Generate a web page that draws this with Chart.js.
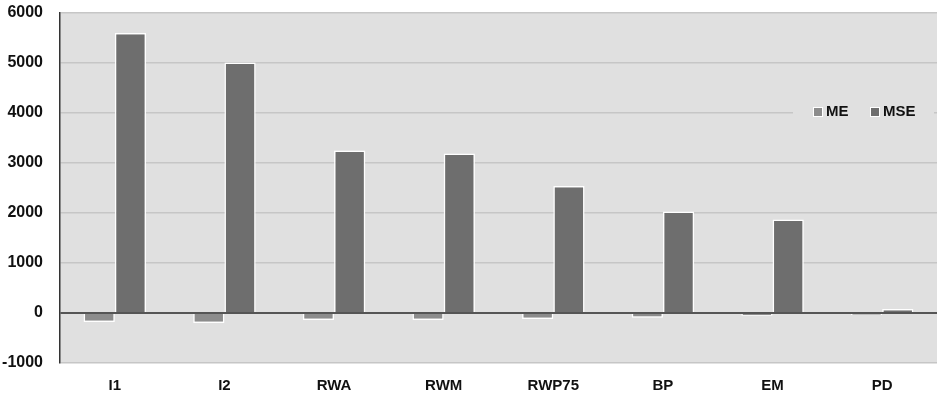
<!DOCTYPE html>
<html>
<head>
<meta charset="utf-8">
<script src="https://cdn.jsdelivr.net/npm/chart.js@4"></script>
<style>
  html, body { margin: 0; padding: 0; background: #ffffff; }
  #wrap { width: 943px; height: 394px; }
</style>
</head>
<body>
<div id="wrap"><canvas id="err-chart" width="943" height="394"></canvas></div>
<script>
// data
const categories = ['I1', 'I2', 'RWA', 'RWM', 'RWP75', 'BP', 'EM', 'PD'];
const meValues = [-180, -200, -140, -140, -120, -95, -55, -40];
const mseValues = [5600, 5010, 3250, 3190, 2540, 2030, 1870, 80];
const yTicks = [-1000, 0, 1000, 2000, 3000, 4000, 5000, 6000];

const bgGray = '#e0e0e0';
const meColor = '#8c8c8c';
const mseColor = '#6e6e6e';
const fontFam = '"Liberation Sans", Arial, sans-serif';

// plot background + the in-plot legend
const plotDeco = {
    id: 'plotDeco',
    beforeDraw: function (chart) {
        const a = chart.chartArea;
        const c = chart.ctx;
        c.save();
        c.fillStyle = bgGray;
        c.fillRect(a.left, a.top, a.right - a.left, a.bottom - a.top);
        c.restore();
    },
    afterDraw: function (chart) {
        const a = chart.chartArea;
        const c = chart.ctx;
        const y = chart.scales.y.getPixelForValue(4000);
        c.save();
        c.fillStyle = bgGray;
        c.fillRect(a.right - 144, y - 9, 141, 18);
        c.font = 'bold 15px ' + fontFam;
        c.textBaseline = 'middle';
        const items = [['ME', meColor, a.right - 124], ['MSE', mseColor, a.right - 67]];
        items.forEach(function (it) {
            c.fillStyle = '#ffffff';
            c.fillRect(it[2], y - 6, 10, 10);
            c.fillStyle = it[1];
            c.fillRect(it[2] + 1, y - 5, 8, 8);
            c.fillStyle = '#111111';
            c.fillText(it[0], it[2] + 13, y - 1);
        });
        c.restore();
    }
};

new Chart(document.getElementById('err-chart'), {
    type: 'bar',
    data: {
        labels: categories,
        datasets: [{
            label: 'ME',
            data: meValues,
            backgroundColor: meColor,
            borderColor: '#ffffff',
            borderWidth: 1.5,
            barPercentage: 1.0,
            categoryPercentage: 0.57
        }, {
            label: 'MSE',
            data: mseValues,
            backgroundColor: mseColor,
            borderColor: '#ffffff',
            borderWidth: 1.5,
            barPercentage: 1.0,
            categoryPercentage: 0.57
        }]
    },
    options: {
        responsive: false,
        animation: false,
        layout: { padding: { top: 13, right: 6, left: 0, bottom: 0 } },
        scales: {
            x: {
                grid: { display: false, drawTicks: false },
                border: { display: false },
                ticks: { color: '#111111', font: { family: fontFam, size: 15, weight: 'bold' }, padding: 14 },
                afterFit: function (s) { s.height = 31; s.paddingLeft = 0; s.paddingRight = 0; }
            },
            y: {
                min: -1000,
                max: 6000,
                afterBuildTicks: function (s) { s.ticks = yTicks.map(function (v) { return { value: v }; }); },
                grid: {
                    drawTicks: false,
                    color: function (ctx) { return ctx.tick && ctx.tick.value === 0 ? '#555555' : '#c6c6c6'; },
                    lineWidth: function (ctx) { return ctx.tick && ctx.tick.value === 0 ? 2 : 1.5; }
                },
                border: { display: true, color: '#333333', width: 1.5 },
                ticks: {
                    color: '#111111',
                    font: { family: fontFam, size: 16, weight: 'bold' },
                    padding: 17,
                    callback: function (v) { return String(v); }
                },
                afterFit: function (s) { s.width = 60; s.paddingTop = 0; s.paddingBottom = 0; }
            }
        },
        plugins: {
            legend: { display: false },
            tooltip: { enabled: false }
        }
    },
    plugins: [plotDeco]
});
</script>
</body>
</html>
